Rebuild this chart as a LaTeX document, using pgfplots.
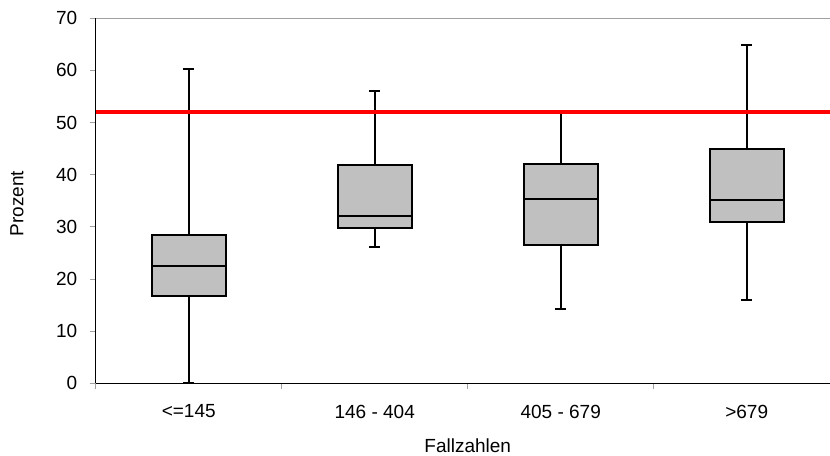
\documentclass[border=0pt]{standalone}
\usepackage{fontspec}
\setmainfont{Liberation Sans}
\usepackage{pgfplots}
\pgfplotsset{compat=1.18}
\usepgfplotslibrary{statistics}
\definecolor{boxgray}{HTML}{C0C0C0}
\definecolor{tickgray}{HTML}{A0A0A0}
\begin{document}
\begin{tikzpicture}[font=\fontsize{19bp}{23bp}\selectfont]
\begin{axis}[
  at={(95.7bp,72.7bp)}, anchor=south west,
  scale only axis, width=744bp, height=365bp,
  xmin=-0.5, xmax=3.5, ymin=0, ymax=70,
  axis lines=left,
  axis line style={-, black, line width=1bp},
  xtick={0,1,2,3},
  xticklabels={{<=145},{146 - 404},{405 - 679},{>679}},
  major x tick style={draw=none},
  minor xtick={-0.5,0.5,1.5,2.5,3.5},
  minor tick length=6bp,
  minor tick style={tickgray, line width=0.8bp},
  ytick={0,10,...,70},
  major tick length=6bp,
  major y tick style={tickgray, line width=0.8bp},
  tick align=outside,
  xticklabel style={yshift=-12bp},
  yticklabel style={xshift=-9bp},
  /pgf/number format/assume math mode=true,
  xlabel={Fallzahlen}, ylabel={Prozent},
  every axis x label/.style={at={(axis description cs:0.5,0)}, anchor=center, yshift=-62bp},
  every axis y label/.style={at={(axis description cs:0,0.5)}, anchor=center, xshift=-78.7bp, yshift=-3bp, rotate=90},
  boxplot/draw direction=y,
  boxplot/every box/.style={draw=black, fill=boxgray, line width=2bp},
  boxplot/every whisker/.style={draw=black, line width=2bp},
  boxplot/every median/.style={draw=black, line width=2bp},
  clip=false,
]
\addplot[black, solid, boxplot prepared={draw position=0, lower whisker=0, lower quartile=16.8, median=22.5, upper quartile=28.4, upper whisker=60.3, box extend=0.4, whisker extend=0.06}] coordinates {};
\addplot[black, solid, boxplot prepared={draw position=1, lower whisker=26.1, lower quartile=29.7, median=32.0, upper quartile=41.8, upper whisker=56.0, box extend=0.4, whisker extend=0.06}] coordinates {};
\addplot[black, solid, boxplot prepared={draw position=2, lower whisker=14.2, lower quartile=26.5, median=35.3, upper quartile=42.1, upper whisker=51.8, box extend=0.4, whisker extend=0.06}] coordinates {};
\addplot[black, solid, boxplot prepared={draw position=3, lower whisker=15.9, lower quartile=30.9, median=35.1, upper quartile=44.9, upper whisker=64.9, box extend=0.4, whisker extend=0.06}] coordinates {};
\addplot[red, line width=4bp, no marks] coordinates {(-0.5,52) (3.5,52)};
\draw[tickgray, line width=0.8bp] (rel axis cs:0,1) -- (rel axis cs:1,1);
\end{axis}
\pgfresetboundingbox
\path[use as bounding box] (0,0) rectangle (830bp,456bp);
\end{tikzpicture}
\end{document}
